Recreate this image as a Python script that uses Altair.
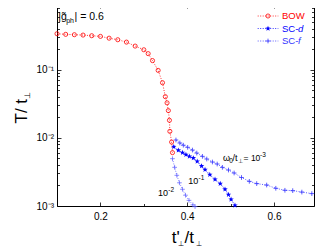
import altair as alt
import numpy as np
import pandas as pd

# ---------------- data ----------------
bow_x = [0.10, 0.12, 0.14, 0.16, 0.18, 0.20, 0.22, 0.24, 0.26, 0.28, 0.30, 0.31, 0.32,
         0.333, 0.343, 0.3495, 0.3535, 0.3565, 0.359, 0.360, 0.364, 0.366]
bow_y = [0.337, 0.330, 0.326, 0.322, 0.315, 0.308, 0.290, 0.275, 0.254, 0.222, 0.196, 0.172, 0.136,
         0.0977, 0.0644, 0.0402, 0.0326, 0.0251, 0.0181, 0.01245, 0.00867, 0.00607]

scd_x = [0.369, 0.3795, 0.389, 0.397, 0.405, 0.414, 0.423, 0.433, 0.441, 0.452, 0.464,
         0.476, 0.487, 0.495, 0.501, 0.510]
scd_y = [0.0074, 0.00656, 0.00607, 0.00567, 0.00535, 0.00506, 0.00452, 0.00386, 0.00342,
         0.00289, 0.00246, 0.00213, 0.00176, 0.00147, 0.00125, 0.00102]

scf3_x = [0.374, 0.383, 0.391, 0.401, 0.412, 0.422, 0.435, 0.445, 0.458, 0.469, 0.481, 0.495,
          0.508, 0.525, 0.543, 0.560, 0.583, 0.604, 0.625, 0.643, 0.664, 0.687]
scf3_y = [0.0093, 0.0084, 0.0078, 0.00726, 0.00662, 0.00598, 0.00535, 0.00489, 0.00442, 0.00413,
          0.00369, 0.00337, 0.00305, 0.00262, 0.00230, 0.00213, 0.00203, 0.00182, 0.00170,
          0.00168, 0.00160, 0.00152]

scf2_x = [0.366, 0.371, 0.376, 0.382, 0.389, 0.396, 0.404, 0.413, 0.418]
scf2_y = [0.00495, 0.00369, 0.00282, 0.00219, 0.00176, 0.00144, 0.00121, 0.00104, 0.00098]

x_tick_labels = [0.2, 0.4, 0.6]
x_ticks = [0.1, 0.2, 0.3, 0.4, 0.5, 0.6]
y_tick_labels = [0.001, 0.01, 0.1]
y_ticks = [m * 10.0 ** e for e in (-3, -2, -1) for m in range(1, 10) if m * 10.0 ** e <= 0.92]

# annotation anchors (data coordinates)
ann_w3 = (0.4825, 0.00464)
ann_w1 = (0.4025, 0.00213)
ann_w2 = (0.3327, 0.00141)

# ---------------- styling ----------------
W, H = 257, 202
FONT = "Liberation Sans"
RED = "#ff0000"
BLUE = "#0000ff"
BLUE2 = "#3333ff"
BLUE3 = "#5c5cff"

xs = alt.Scale(domain=[0.1, 0.692], nice=False, zero=False)
ys = alt.Scale(type="log", domain=[0.001, 0.92], nice=False)

star_pts = []
for k in range(10):
    r = 1.0 if k % 2 == 0 else 0.42
    a = -np.pi / 2 + k * np.pi / 5
    star_pts.append(f"{r*np.cos(a):.3f},{r*np.sin(a):.3f}")
STAR = "M" + "L".join(star_pts) + "Z"
CROSS = "M-1,0L1,0M0,-1L0,1"
DASH = [1, 1.5]


def enc(ch):
    return ch.encode(x=alt.X("x:Q", scale=xs, axis=None),
                     y=alt.Y("y:Q", scale=ys, axis=None))


def series(xv, yv, color, shape, size, filled, sw):
    df = pd.DataFrame({"x": xv, "y": yv})
    line = enc(alt.Chart(df).mark_line(color=color, strokeDash=DASH, strokeWidth=0.8))
    pts = enc(alt.Chart(df).mark_point(shape=shape, size=size, filled=filled, color=color,
                                        strokeWidth=sw, opacity=1))
    return [line, pts]


layers = []
layers += series(bow_x, bow_y, RED, "circle", 17, False, 0.8)
layers += series(scf2_x, scf2_y, BLUE3, CROSS, 22, False, 0.7)
layers += series(scf3_x, scf3_y, BLUE2, CROSS, 22, False, 0.8)
layers += series(scd_x, scd_y, BLUE, STAR, 32, True, 0.5)

# ---------------- axes (labels outside, ticks inward on all four sides) ----------------
base_df = pd.DataFrame({"x": bow_x, "y": bow_y})
x_major = "abs(datum.value*5 - round(datum.value*5)) < 0.001"
y_major = "abs(log(datum.value)/LN10 - round(log(datum.value)/LN10)) < 0.001"
common = dict(grid=False, domain=False, title=None, tickColor="black", tickWidth=0.8)


def ax_layer(xa, ya):
    return alt.Chart(base_df).mark_point(opacity=0).encode(
        x=alt.X("x:Q", scale=xs, axis=xa), y=alt.Y("y:Q", scale=ys, axis=ya))


lab_x = alt.Axis(orient="bottom", values=x_tick_labels, format=".1f", ticks=False,
                 labelPadding=5, labelFont=FONT, labelFontSize=10, labelColor="black",
                 labelFlush=False, **common)
lab_y = alt.Axis(orient="left", values=y_tick_labels, ticks=False, labelPadding=3.5,
                 labelFont=FONT, labelFontSize=10, labelColor="black",
                 labelExpr="datum.value < 0.005 ? '10⁻³' : (datum.value < 0.05 ? '10⁻²' : '10⁻¹')",
                 **common)
xt = dict(values=x_ticks, labels=False,
          tickSize={"condition": {"test": x_major, "value": 4}, "value": 2.5}, **common)
yt = dict(values=y_ticks, labels=False,
          tickSize={"condition": {"test": y_major, "value": 4}, "value": 2.5}, **common)

layers.append(ax_layer(lab_x, lab_y))
layers.append(ax_layer(alt.Axis(orient="top", offset=-H, **xt),
                       alt.Axis(orient="right", offset=-W, **yt)))
layers.append(ax_layer(alt.Axis(orient="bottom", offset=-H, **xt),
                       alt.Axis(orient="left", offset=-W, **yt)))

# ---------------- annotations ----------------
one = pd.DataFrame({"a": [0]})


def ptext(text, x, y, size, color="black", angle=0, italic=False, baseline="alphabetic"):
    kw = dict(text=text, font=FONT, fontSize=size, color=color, align="left", baseline=baseline)
    if angle:
        kw["angle"] = angle
    if italic:
        kw["fontStyle"] = "italic"
    return alt.Chart(one).mark_text(**kw).encode(x=alt.value(x), y=alt.value(y))


def dtext(text, anchor, size, dx=0, dy=0):
    df = pd.DataFrame({"x": [anchor[0]], "y": [anchor[1]]})
    return enc(alt.Chart(df).mark_text(text=text, font=FONT, fontSize=size, color="black",
                                       align="left", baseline="alphabetic", dx=dx, dy=dy))


# |g~_ph| = 0.6
layers.append(ptext("|g\u0303", 1.3, 15.8, 10.5))
layers.append(ptext("ph", 9.2, 19.0, 7))
layers.append(ptext("| = 0.6", 17.5, 15.8, 10.5))

# omega_0 / t_perp = 10^-3
layers.append(dtext("ω", ann_w3, 9))
layers.append(dtext("0", ann_w3, 6.5, dx=6.2, dy=2.2))
layers.append(dtext("/t", ann_w3, 9, dx=9.5))
layers.append(dtext("⊥", ann_w3, 6, dx=14.6, dy=2.2))
layers.append(dtext("= 10", ann_w3, 8.5, dx=20.5))
layers.append(dtext("-3", ann_w3, 6.5, dx=37, dy=-4))
# 10^-1 and 10^-2
layers.append(dtext("10", ann_w1, 9))
layers.append(dtext("-1", ann_w1, 6.5, dx=10.2, dy=-4))
layers.append(dtext("10", ann_w2, 9))
layers.append(dtext("-2", ann_w2, 6.5, dx=10.2, dy=-4))

# axis titles
layers.append(ptext("T/ t", -30.5, 119.5, 17, angle=270))
layers.append(ptext("⊥", -27.5, 95.0, 8, angle=270))
layers.append(ptext("t'", 114.7, 238.5, 17))
layers.append(ptext("⊥", 121.3, 241.5, 7))
layers.append(ptext("/t", 127.5, 238.5, 17))
layers.append(ptext("⊥", 139.0, 241.5, 7))

# ---------------- legend ----------------
leg_rows = [("BOW", "", RED, "circle", 17, False), ("SC-", "d", BLUE, STAR, 32, True),
            ("SC-", "f", BLUE2, CROSS, 22, False)]
leg_y = [12.0, 24.5, 37.0]
for (lab, it, col, shp, sz, fil), yy in zip(leg_rows, leg_y):
    layers.append(alt.Chart(one).mark_rule(color=col, strokeDash=DASH, strokeWidth=0.8).encode(
        x=alt.value(200.7), x2=alt.value(221.3), y=alt.value(yy)))
    layers.append(alt.Chart(one).mark_point(shape=shp, size=sz, filled=fil, color=col,
                                            strokeWidth=0.8, opacity=1).encode(
        x=alt.value(211.0), y=alt.value(yy)))
    layers.append(ptext(lab, 225.0, yy, 9.5, color=col, baseline="middle"))
    if it:
        layers.append(ptext(it, 241.0, yy, 9.5, color=col, italic=True, baseline="middle"))

chart = alt.layer(*layers).resolve_axis(x="independent", y="independent").properties(
    width=W, height=H,
    padding={"left": 49, "top": -4, "right": 4, "bottom": 41},
    autosize=alt.AutoSizeParams(type="none"),
).configure_view(stroke="black", strokeWidth=1)

chart.save("out.html", embed_options={"renderer": "svg", "actions": False})
